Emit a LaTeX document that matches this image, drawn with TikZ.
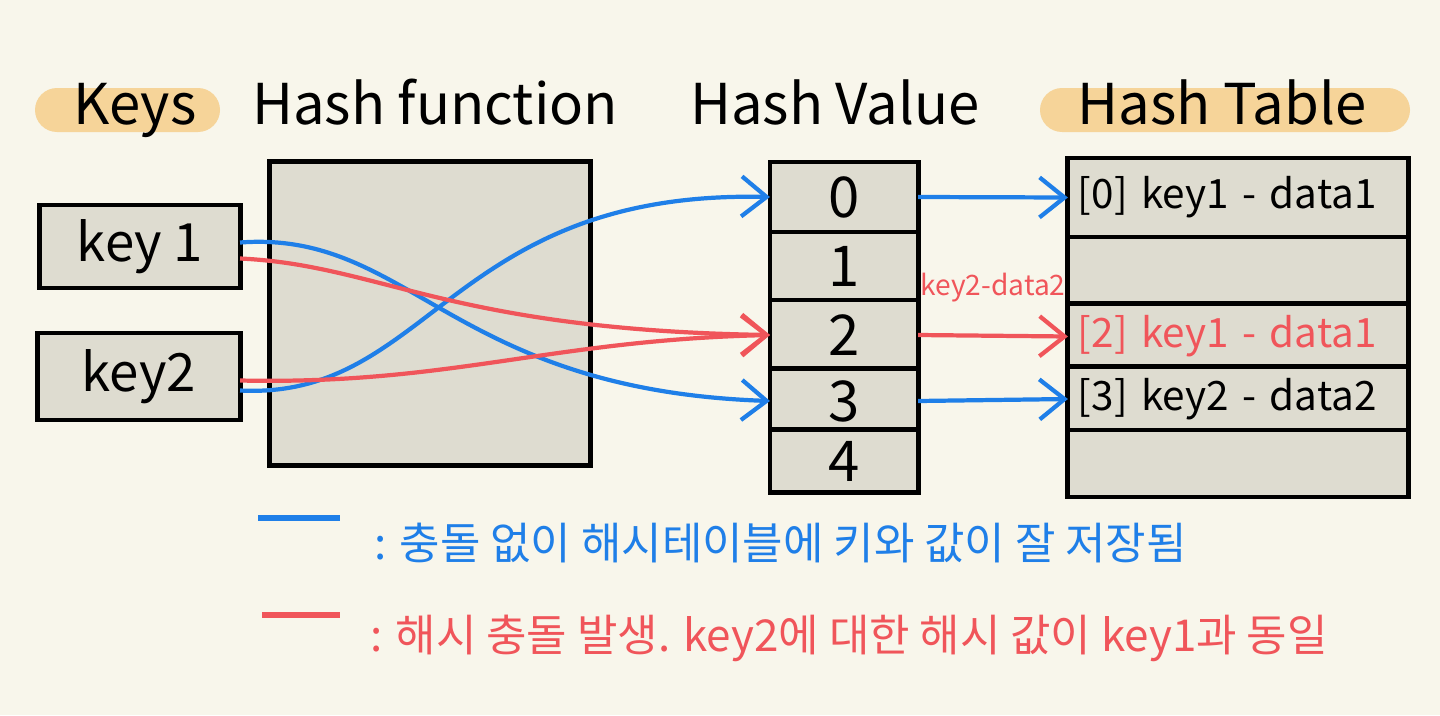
\documentclass[tikz,border=0pt]{standalone}
\usepackage{fontspec}
\setmainfont{Noto Sans CJK KR}
\usepackage{xcolor}
\usepackage{tikz}
\usetikzlibrary{arrows.meta, positioning}

\definecolor{bgcream}{HTML}{F8F6EB}
\definecolor{boxgray}{HTML}{DEDCD0}
\definecolor{pillorange}{HTML}{F6D499}
\definecolor{penblue}{HTML}{1F7FE8}
\definecolor{penred}{HTML}{F0555A}

\tikzset{
  box/.style={draw=black, fill=boxgray, line width=1.4pt, outer sep=0pt},
  keybox/.style={box, font=\fontsize{15}{17}\selectfont},
  cell/.style={box, minimum width=1.48cm, font=\fontsize{16}{18}\selectfont},
  slot/.style={box, text width=3.2cm, inner xsep=0.1cm, align=left,
               font=\fontsize{11.5}{13}\selectfont},
  header/.style={anchor=base, font=\fontsize{16}{18}\selectfont},
  blueline/.style={penblue, line width=1.2pt, -{Straight Barb[length=2.5mm, width=4mm]}},
  redline/.style={penred, line width=1.2pt, -{Straight Barb[length=2.5mm, width=4mm]}}
}

\begin{document}
\begin{tikzpicture}[x=0.01cm, y=-0.01cm]
  \fill[bgcream] (0,0) rectangle (1440,715);

  % headers
  \fill[pillorange, rounded corners=0.22cm] (35,88) rectangle (220,132);
  \fill[pillorange, rounded corners=0.22cm] (1040,88) rectangle (1410,132);
  \node[header] (hkeys) at (135,124) {Keys};
  \node[header] (hfunc) at (435,124) {Hash function};
  \node[header] (hval) at (835,124) {Hash Value};
  \node[header] (htab) at (1222,124) {Hash Table};

  % keys and hash function
  \node[keybox, minimum width=2cm, minimum height=0.83cm] (k1) at (140,246.5) {key 1};
  \node[keybox, minimum width=2.02cm, minimum height=0.87cm] (k2) at (139,376.5) {key2};
  \node[box, minimum width=3.2cm, minimum height=3.03cm] (hf) at (430,313.5) {};

  % hash values
  \foreach \i/\y/\h in {0/197/0.70, 1/266/0.68, 2/335/0.70, 3/401/0.62, 4/461/0.58}
    \node[cell, minimum height=\h cm] (v\i) at (844,\y) {\i};

  % hash table
  \foreach \i/\y/\h/\txt/\col in {0/197.5/0.79/{[0] key1 - data1}/black,
                                  1/271/0.68/{}/black,
                                  2/336.5/0.63/{[2] key1 - data1}/penred,
                                  3/399/0.62/{[3] key2 - data2}/black,
                                  4/463.5/0.67/{}/black}
    \node[slot, minimum height=\h cm, text=\col] (t\i) at (1238,\y) {\txt};

  % mapping curves
  \draw[blueline] ([yshift=0.04cm]k1.east) .. controls (410,230) and (450,390) .. (v3.west);
  \draw[blueline] ([yshift=-0.14cm]k2.east) .. controls (430,400) and (450,190) .. (v0.west);
  \draw[redline] ([yshift=-0.12cm]k1.east) .. controls (380,265) and (450,330) .. (v2.west);
  \draw[redline] ([yshift=-0.04cm]k2.east) .. controls (450,385) and (550,340) .. (v2.west);

  % value to table
  \draw[blueline] (v0.east) -- (t0.west);
  \draw[redline] (v2.east) -- (t2.west)
    node[midway, above=0.2cm, text=penred, font=\fontsize{8}{9}\selectfont] (lbl) {key2-data2};
  \draw[blueline] (v3.east) -- (t3.west);

  % legend
  \draw[penblue, line width=1.5pt] (258,518) -- (340,518);
  \node[anchor=west, text=penblue, font=\fontsize{12.5}{14}\selectfont] (lgblue) at (362,543)
    {: 충돌 없이 해시테이블에 키와 값이 잘 저장됨};
  \draw[penred, line width=1.5pt] (262,615) -- (340,615);
  \node[anchor=west, text=penred, font=\fontsize{12.5}{14}\selectfont] (lgred) at (358,638)
    {: 해시 충돌 발생. key2에 대한 해시 값이 key1과 동일};
\end{tikzpicture}
\end{document}
